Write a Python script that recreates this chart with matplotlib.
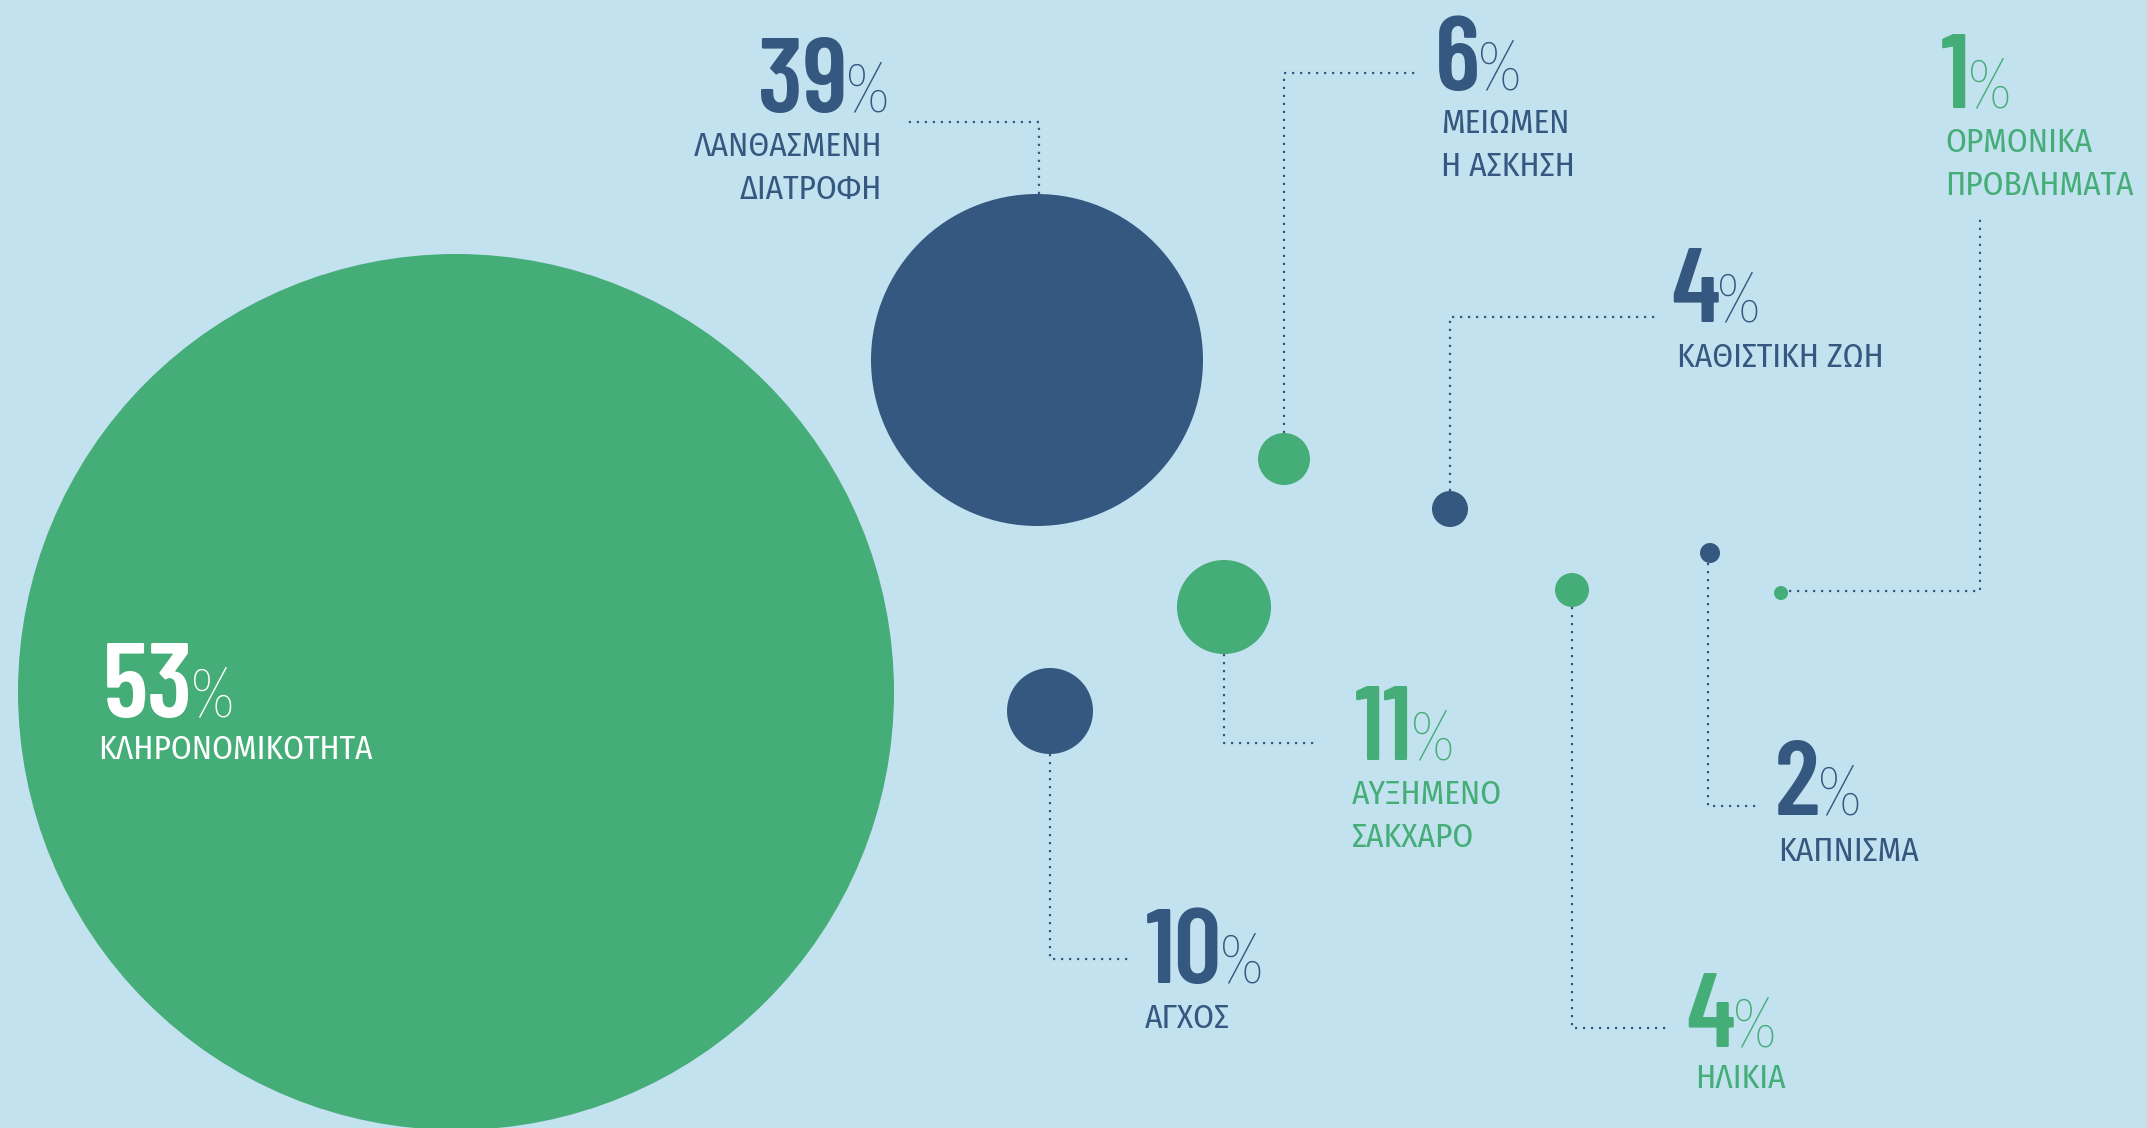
import matplotlib
matplotlib.use("Agg")
import matplotlib.pyplot as plt
from matplotlib.patches import Circle

# Risk factors and their share (%)
labels = ["ΚΛΗΡΟΝΟΜΙΚΟΤΗΤΑ", "ΛΑΝΘΑΣΜΕΝΗ\nΔΙΑΤΡΟΦΗ", "ΜΕΙΩΜΕΝ\nΗ ΑΣΚΗΣΗ",
          "ΚΑΘΙΣΤΙΚΗ ΖΩΗ", "ΟΡΜΟΝΙΚΑ\nΠΡΟΒΛΗΜΑΤΑ", "ΑΥΞΗΜΕΝΟ\nΣΑΚΧΑΡΟ",
          "ΑΓΧΟΣ", "ΗΛΙΚΙΑ", "ΚΑΠΝΙΣΜΑ"]
values = [53, 39, 6, 4, 1, 11, 10, 4, 2]

GREEN = "#45ad77"
BLUE = "#34587f"
BG = "#c3e2f0"

circle_colors = [GREEN, BLUE, GREEN, BLUE, GREEN, GREEN, BLUE, GREEN, BLUE]
text_colors = ["white", BLUE, BLUE, BLUE, GREEN, GREEN, BLUE, GREEN, BLUE]

# layout in pixels (x, y from top-left)
centers = [(456, 692), (1037, 360), (1284, 459), (1450, 509), (1781, 593),
           (1224, 607), (1050, 711), (1572, 590), (1710, 553)]
radii = [438, 166, 26, 18, 7, 47, 43, 17, 10]
leaders = [
    None,
    [(1039, 194), (1039, 122), (908, 122)],
    [(1284, 433), (1284, 73), (1417, 73)],
    [(1450, 491), (1450, 317), (1655, 317)],
    [(1789, 591), (1980, 591), (1980, 219)],
    [(1224, 654), (1224, 743), (1318, 743)],
    [(1050, 754), (1050, 959), (1132, 959)],
    [(1572, 607), (1572, 1028), (1666, 1028)],
    [(1708, 563), (1708, 806), (1756, 806)],
]
# number anchor (x, baseline), label anchor (x, first baseline), alignment
num_pos = [(103, 717), (890, 112), (1435, 90), (1671, 322), (1941, 108),
           (1355, 760), (1146, 983), (1686, 1047), (1775, 815)]
lab_pos = [(98, 759), (882, 156), (1441, 133), (1677, 367), (1945, 152),
           (1352, 804), (1145, 1028), (1695, 1088), (1778, 861)]
align = ["left", "right", "left", "left", "left", "left", "left", "left", "left"]
line_gap = 43

W, H = 2147, 1128
NUM_FONT = ["Barlow Condensed", "Liberation Sans Narrow", "DejaVu Sans"]
PCT_FONT = ["Fira Sans Extra Condensed", "Barlow Condensed", "DejaVu Sans"]
LAB_FONT = ["Fira Sans Condensed", "Roboto Condensed", "DejaVu Sans"]

fig = plt.figure(figsize=(W / 100, H / 100), dpi=100, facecolor=BG)
ax = fig.add_axes([0, 0, 1, 1])
ax.set_xlim(0, W)
ax.set_ylim(H, 0)
ax.set_facecolor(BG)
ax.axis("off")

for (cx, cy), r, c in zip(centers, radii, circle_colors):
    ax.add_patch(Circle((cx, cy), r, color=c, lw=0, zorder=2))

for pts in leaders:
    if pts is None:
        continue
    xs, ys = zip(*pts)
    ax.plot(xs, ys, color=BLUE, lw=1.6, ls=(0, (1, 2.6)),
            dash_capstyle="butt", zorder=1)

renderer = fig.canvas.get_renderer()

for i, v in enumerate(values):
    col = text_colors[i]
    nx, ny = num_pos[i]
    if align[i] == "left":
        t = ax.text(nx, ny, str(v), ha="left", va="baseline", color=col,
                    family=NUM_FONT, weight="semibold", fontsize=76, zorder=3)
        bb = t.get_window_extent(renderer)
        ax.text(bb.x1 - 3, ny, "%", ha="left", va="baseline", color=col,
                family=PCT_FONT, weight="light", fontsize=51, zorder=3)
    else:
        p = ax.text(nx, ny, "%", ha="right", va="baseline", color=col,
                    family=PCT_FONT, weight="light", fontsize=51, zorder=3)
        bb = p.get_window_extent(renderer)
        ax.text(bb.x0 + 3, ny, str(v), ha="right", va="baseline", color=col,
                family=NUM_FONT, weight="semibold", fontsize=76, zorder=3)

    lx, ly = lab_pos[i]
    for k, line in enumerate(labels[i].split("\n")):
        ax.text(lx, ly + k * line_gap, line, ha=align[i], va="baseline",
                color=col, family=LAB_FONT, fontsize=24, zorder=3)

fig.savefig("out.png", dpi=100, facecolor=BG)
